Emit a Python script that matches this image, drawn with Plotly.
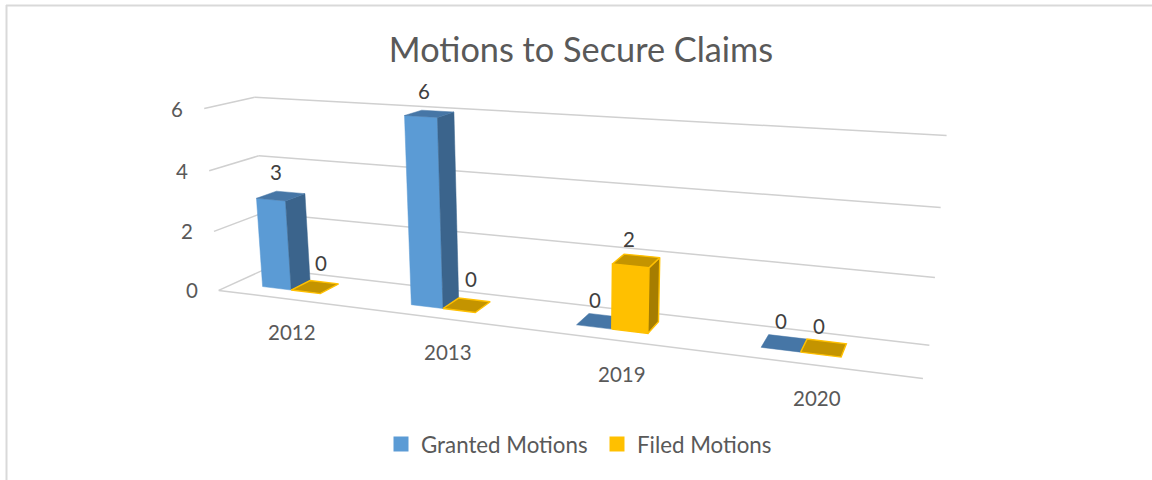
import numpy as np
import plotly.graph_objects as go

TITLE = "Motions to Secure Claims"
years = ["2012", "2013", "2019", "2020"]
granted = [3, 6, 0, 0]
filed = [0, 0, 2, 0]
value_ticks = [0, 2, 4, 6]

# Camera of the 3-D chart: world (category, depth, value) -> axis units
CAMERA = np.array([[129.55672, 64.85736, -3.75746, 218.69709],
                   [2.97142, -4.54938, -31.03519, 290.4208],
                   [-0.05038, 0.06425, -0.00659, 1.0]])

BAR_W = 0.2
BAR_START = 0.2
DEPTH = (0.32, 0.74)
FONT = "Lato, Carlito, Calibri, sans-serif"
GREY = "#595959"
DARK = "#404040"
GRID = "#d0d0d0"
STYLE = {
    "granted": dict(front="#5b9bd5", side="#3b648c", top="#4676a6", edge=None),
    "filed": dict(front="#ffc000", side="#a67d00", top="#c49400", edge="#ffc000"),
}
# label nudges in pixels, per bar
NUDGE_G = [(-5, -24), (-5.5, -23), (-5, -21), (-3, -22)]
NUDGE_F = [(6, -24), (4, -26), (-7.5, -22), (-5, -22)]


def proj(x, y, z):
    h = CAMERA @ np.array([x, y, z, 1.0])
    return h[0] / h[2], h[1] / h[2]


def poly(corners, color, edge=None, width=1.0):
    pts = [proj(*c) for c in corners] + [proj(*corners[0])]
    return go.Scatter(x=[p[0] for p in pts], y=[p[1] for p in pts], mode="lines",
                      fill="toself", fillcolor=color,
                      line=dict(color=edge or color, width=width),
                      showlegend=False, hoverinfo="skip")


def line(a, b):
    pa, pb = proj(*a), proj(*b)
    return go.Scatter(x=[pa[0], pb[0]], y=[pa[1], pb[1]], mode="lines",
                      line=dict(color=GRID, width=1.5), showlegend=False, hoverinfo="skip")


fig = go.Figure()
n = len(years)
for v in value_ticks:
    fig.add_trace(line((0, 0, v), (0, 1, v)))
    fig.add_trace(line((0, 1, v), (n, 1, v)))
fig.add_trace(line((0, 0, 0), (n, 0, 0)))


def bar(i, offset, v, st):
    x0 = i + BAR_START + offset * BAR_W
    x1 = x0 + BAR_W
    y0, y1 = DEPTH
    w = 1.4 if st["edge"] else 0.5
    if v > 0:
        fig.add_trace(poly([(x0, y0, 0), (x1, y0, 0), (x1, y0, v), (x0, y0, v)], st["front"], st["edge"], w))
        fig.add_trace(poly([(x1, y0, 0), (x1, y1, 0), (x1, y1, v), (x1, y0, v)], st["side"], st["edge"], w))
    fig.add_trace(poly([(x0, y0, v), (x1, y0, v), (x1, y1, v), (x0, y1, v)], st["top"], st["edge"], w))


for i in range(n):
    bar(i, 0, granted[i], STYLE["granted"])
    bar(i, 1, filed[i], STYLE["filed"])

notes = []
for v in value_ticks:
    px, py = proj(0, 0, v)
    notes.append(dict(x=px, y=py, text=str(v), xshift=-27, showarrow=False,
                      font=dict(family=FONT, size=20.5, color=GREY)))
for i, y in enumerate(years):
    px, py = proj(i + 0.5, 0, 0)
    notes.append(dict(x=px, y=py, text=y, xshift=1, yshift=-33, showarrow=False,
                      font=dict(family=FONT, size=20.5, color=GREY)))
ymid = sum(DEPTH) / 2
for i in range(n):
    for off, vals, nudge in ((0, granted, NUDGE_G), (1, filed, NUDGE_F)):
        px, py = proj(i + BAR_START + (off + 0.5) * BAR_W, ymid, vals[i])
        notes.append(dict(x=px, y=py, text=str(vals[i]), xshift=nudge[i][0], yshift=-nudge[i][1],
                          showarrow=False, font=dict(family=FONT, size=20.5, color=DARK)))

for name, c in (("Granted Motions", STYLE["granted"]["front"]), ("Filed Motions", STYLE["filed"]["front"])):
    fig.add_trace(go.Scatter(x=[None], y=[None], mode="markers", name=name,
                             marker=dict(symbol="square", size=15, color=c)))

fig.update_layout(
    width=1152, height=480, margin=dict(l=0, r=0, t=0, b=0),
    paper_bgcolor="white", plot_bgcolor="white",
    title=dict(text=TITLE, x=581 / 1152, xanchor="center", y=1 - 50 / 480, yanchor="middle",
               font=dict(family=FONT, size=34.3, color=GREY)),
    xaxis=dict(range=[0, 1152], visible=False, fixedrange=True),
    yaxis=dict(range=[480, 0], visible=False, fixedrange=True),
    annotations=notes,
    legend=dict(orientation="h", x=381 / 1152, xanchor="left", y=1 - 444 / 480, yanchor="middle",
                entrywidth=171, entrywidthmode="pixels",
                font=dict(family=FONT, size=22.3, color=GREY), bgcolor="rgba(0,0,0,0)"),
    shapes=[
        dict(type="line", xref="x", yref="y", x0=6.5, x1=6.5, y0=5, y1=480, line=dict(color="#d9d9d9", width=2)),
        dict(type="line", xref="x", yref="y", x0=6, x1=1152, y0=5.5, y1=5.5, line=dict(color="#d9d9d9", width=2)),
    ],
)
fig.write_html("out.html", config={"displayModeBar": False}, post_script="document.body.style.margin='0';")
